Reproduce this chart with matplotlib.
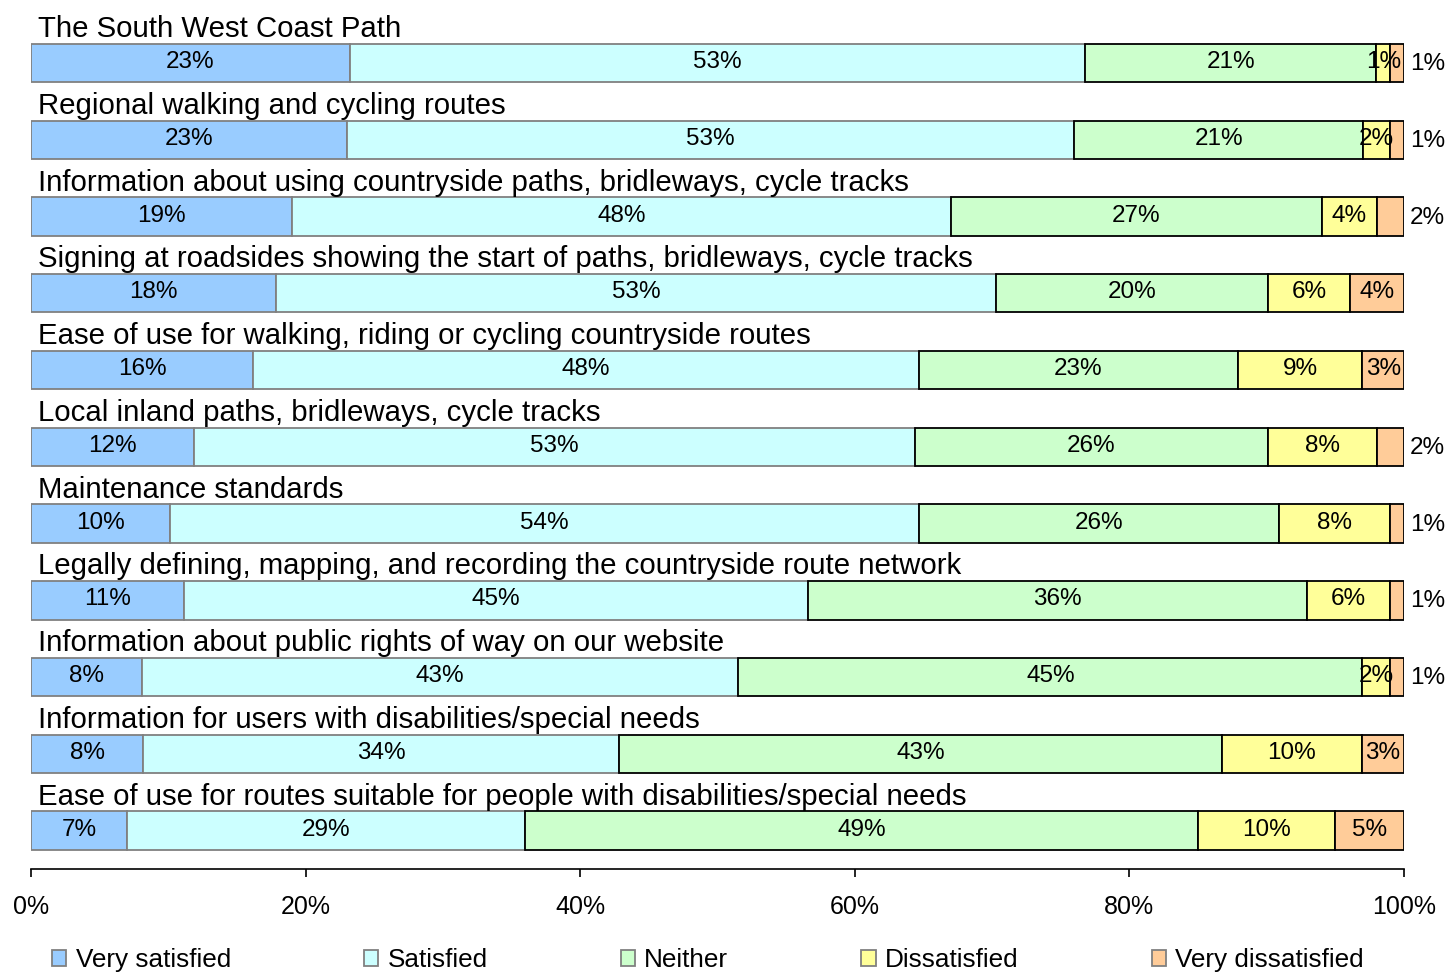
import numpy as np
import matplotlib
matplotlib.use('Agg')
import matplotlib.pyplot as plt

plt.rcParams['font.family'] = ['Liberation Sans', 'DejaVu Sans']

questions = [
    'The South West Coast Path',
    'Regional walking and cycling routes',
    'Information about using countryside paths, bridleways, cycle tracks',
    'Signing at roadsides showing the start of paths, bridleways, cycle tracks',
    'Ease of use for walking, riding or cycling countryside routes',
    'Local inland paths, bridleways, cycle tracks',
    'Maintenance standards',
    'Legally defining, mapping, and recording the countryside route network',
    'Information about public rights of way on our website',
    'Information for users with disabilities/special needs',
    'Ease of use for routes suitable for people with disabilities/special needs',
]

categories = ['Very satisfied', 'Satisfied', 'Neither', 'Dissatisfied', 'Very dissatisfied']

very_satisfied    = [23, 23, 19, 18, 16, 12, 10, 11, 8, 8, 7]
satisfied         = [53, 53, 48, 53, 48, 53, 54, 45, 43, 34, 29]
neither           = [21, 21, 27, 20, 23, 26, 26, 36, 45, 43, 49]
dissatisfied      = [1, 2, 4, 6, 9, 8, 8, 6, 2, 10, 10]
very_dissatisfied = [1, 1, 2, 4, 3, 2, 1, 1, 1, 3, 5]

colors = ['#99CCFF', '#CCFFFF', '#CCFFCC', '#FFFF99', '#FFCC99']
edges = ['#808080', '#808080', '#000000', '#000000', '#000000']

series = np.array([very_satisfied, satisfied, neither, dissatisfied, very_dissatisfied], dtype=float)
shares = series / series.sum(axis=0) * 100  # each bar spans 0-100%

fig = plt.figure(figsize=(14.47, 9.72), dpi=100)
ax = fig.add_axes([31 / 1447, 1 - 869 / 972, (1404 - 31) / 1447, (869 - 24.6) / 972])

y = np.arange(len(questions))
left = np.zeros(len(questions))
handles = []
for k, name in enumerate(categories):
    bars = ax.barh(y, shares[k], left=left, height=0.5, color=colors[k],
                   edgecolor=edges[k], linewidth=1.3, label=name)
    handles.append(bars)
    for i in range(len(questions)):
        val = int(series[k, i])
        cx = left[i] + shares[k, i] / 2
        if k == len(categories) - 1 and val <= 2:
            # small last segment: label sits outside the bar
            ax.annotate(f'{val}%', (100, y[i]), xytext=(6, -1), textcoords='offset pixels',
                        ha='left', va='center', fontsize=17.5)
        else:
            ax.annotate(f'{val}%', (cx, y[i]), xytext=(0, 1), textcoords='offset pixels',
                        ha='center', va='center', fontsize=17.5)
    left += shares[k]

for i, q in enumerate(questions):
    ax.annotate(q, (0, y[i]), xytext=(7, 26), textcoords='offset pixels',
                ha='left', va='baseline', fontsize=21.2)

ax.set_xlim(0, 100)
ax.set_ylim(len(questions) - 0.5, -0.5)
ax.set_yticks([])
ax.set_xticks(np.arange(0, 101, 20))
ax.set_xticklabels([f'{t}%' for t in range(0, 101, 20)], fontsize=18)
ax.tick_params(axis='x', direction='out', length=6, width=1.2, pad=13)
for s in ['top', 'left', 'right']:
    ax.spines[s].set_visible(False)
ax.spines['bottom'].set_linewidth(1.2)

leg = fig.legend(handles=handles, labels=categories, loc='center left',
                 bbox_to_anchor=(52 / 1447, 1 - 960 / 972), ncol=5, frameon=False,
                 fontsize=18.8, handlelength=0.55, handleheight=0.55,
                 handletextpad=0.35, columnspacing=5.1, borderpad=0, borderaxespad=0)
for h in leg.legend_handles:
    h.set_edgecolor('#808080')
    h.set_linewidth(1.3)

fig.savefig('out.png', dpi=100)
